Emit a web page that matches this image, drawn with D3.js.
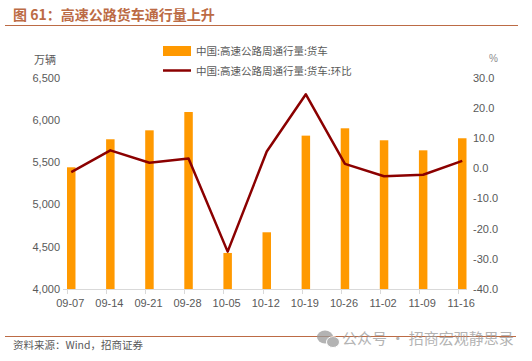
<!DOCTYPE html>
<html>
<head>
<meta charset="utf-8">
<script src="https://cdn.jsdelivr.net/npm/d3@7"></script>
<style>
  body { margin: 0; background: #fff; }
  text { font-family: "Liberation Sans", Arial, "Noto Sans CJK SC", sans-serif; }
  .cjk { font-family: "Noto Sans CJK SC", sans-serif; }
</style>
</head>
<body>
<svg width="532" height="361"></svg>
<script>
// weekly data
var weeks = ["09-07", "09-14", "09-21", "09-28", "10-05", "10-12", "10-19", "10-26", "11-02", "11-09", "11-16"];
var trucks = [5442, 5774, 5880, 6097, 4427, 4672, 5817, 5904, 5762, 5643, 5786];   // 万辆
var momPct = [-1.2, 6.0, 1.9, 3.3, -27.6, 5.6, 24.6, 1.5, -2.6, -2.1, 2.5];       // %
var leftTicks = [4000, 4500, 5000, 5500, 6000, 6500];
var rightTicks = [-40, -30, -20, -10, 0, 10, 20, 30];

var svg = d3.select("svg");
var titleColor = "#bc6b45",
    textColor = "#595959",
    barColor = "#ff9900",
    lineColor = "#8b0000";

// title + rule
svg.append("text").attr("class", "cjk")
    .attr("x", 13).attr("y", 20)
    .attr("font-size", 14).attr("font-weight", "bold")
    .attr("fill", titleColor)
    .text("图 61：高速公路货车通行量上升");
svg.append("line")
    .attr("x1", 5).attr("x2", 518).attr("y1", 25.5).attr("y2", 25.5)
    .attr("stroke", titleColor).attr("stroke-width", 1);

// scales
var x = d3.scaleBand().domain(weeks).range([67, 466.5]).paddingInner(0.783).paddingOuter(0);
var yL = d3.scaleLinear().domain([4000, 6500]).range([289, 78]);
var yR = d3.scaleLinear().domain([-40, 30]).range([289, 78]);

// left axis labels
var fmt = d3.format(",");
svg.append("g").selectAll("text")
    .data(leftTicks)
    .enter().append("text")
    .attr("x", 60).attr("y", function(d) { return yL(d); })
    .attr("dy", "0.35em").attr("text-anchor", "end")
    .attr("font-size", 11).attr("fill", textColor)
    .text(function(d) { return fmt(d); });
svg.append("text").attr("class", "cjk")
    .attr("x", 34).attr("y", 60).attr("dy", "0.35em")
    .attr("font-size", 11).attr("fill", textColor)
    .text("万辆");

// right axis labels
svg.append("g").selectAll("text")
    .data(rightTicks)
    .enter().append("text")
    .attr("x", 473).attr("y", function(d) { return yR(d); })
    .attr("dy", "0.35em")
    .attr("font-size", 11).attr("fill", textColor)
    .text(function(d) { return d.toFixed(1); });
svg.append("text")
    .attr("x", 489).attr("y", 58).attr("dy", "0.35em")
    .attr("font-size", 10).attr("fill", "#8c8c8c")
    .text("%");

// bars
svg.append("g").selectAll("rect")
    .data(weeks)
    .enter().append("rect")
    .attr("x", function(d) { return x(d); })
    .attr("width", x.bandwidth())
    .attr("y", function(d, i) { return yL(trucks[i]); })
    .attr("height", function(d, i) { return yL(4000) - yL(trucks[i]); })
    .attr("fill", barColor);

// x axis
var xAxis = svg.append("g");
xAxis.append("line")
    .attr("x1", 63).attr("x2", 467).attr("y1", 289.5).attr("y2", 289.5)
    .attr("stroke", "#d9d9d9");
xAxis.selectAll("line.tick")
    .data(weeks)
    .enter().append("line").attr("class", "tick")
    .attr("x1", function(d) { return Math.round(x(d)) + 0.5; })
    .attr("x2", function(d) { return Math.round(x(d)) + 0.5; })
    .attr("y1", 289).attr("y2", 294)
    .attr("stroke", "#d9d9d9");
xAxis.selectAll("text")
    .data(weeks)
    .enter().append("text")
    .attr("x", function(d) { return x(d) + x.bandwidth() / 2 - 1; })
    .attr("y", 303).attr("dy", "0.35em")
    .attr("text-anchor", "middle")
    .attr("font-size", 11).attr("fill", textColor)
    .text(function(d) { return d; });

// line series
var line = d3.line()
    .x(function(d, i) { return x(weeks[i]) + x.bandwidth() / 2; })
    .y(function(d) { return yR(d); });
svg.append("path")
    .datum(momPct)
    .attr("d", line)
    .attr("fill", "none")
    .attr("stroke", lineColor)
    .attr("stroke-width", 2.5)
    .attr("stroke-linejoin", "round");

// legend
var legend = svg.append("g");
legend.append("rect")
    .attr("x", 163).attr("y", 46).attr("width", 28).attr("height", 10)
    .attr("fill", barColor);
legend.append("line")
    .attr("x1", 163).attr("x2", 191).attr("y1", 70.5).attr("y2", 70.5)
    .attr("stroke", lineColor).attr("stroke-width", 2.5);
legend.selectAll("text")
    .data(["中国:高速公路周通行量:货车", "中国:高速公路周通行量:货车:环比"])
    .enter().append("text").attr("class", "cjk")
    .attr("x", 196).attr("y", function(d, i) { return 51 + i * 20; })
    .attr("dy", "0.35em")
    .attr("font-size", 10.5).attr("fill", textColor)
    .text(function(d) { return d; });

// footer
svg.append("line")
    .attr("x1", 5).attr("x2", 516).attr("y1", 336.5).attr("y2", 336.5)
    .attr("stroke", titleColor).attr("stroke-width", 1);
svg.append("text").attr("class", "cjk")
    .attr("x", 13).attr("y", 345).attr("dy", "0.35em")
    .attr("font-size", 10.5).attr("fill", textColor)
    .text("资料来源：Wind，招商证券");

// watermark
var wm = svg.append("g").attr("opacity", 0.75);
wm.append("ellipse").attr("cx", 325).attr("cy", 337).attr("rx", 8).attr("ry", 6.5).attr("fill", "#9a9a9a");
wm.append("ellipse").attr("cx", 333).attr("cy", 342).attr("rx", 6.5).attr("ry", 5.5).attr("fill", "#9a9a9a").attr("stroke", "#fff").attr("stroke-width", 1);
wm.append("text").attr("class", "cjk")
    .attr("x", 342).attr("y", 339).attr("dy", "0.35em")
    .attr("font-size", 15).attr("fill", "#9a9a9a")
    .text("公众号 · 招商宏观静思录");
</script>
</body>
</html>
